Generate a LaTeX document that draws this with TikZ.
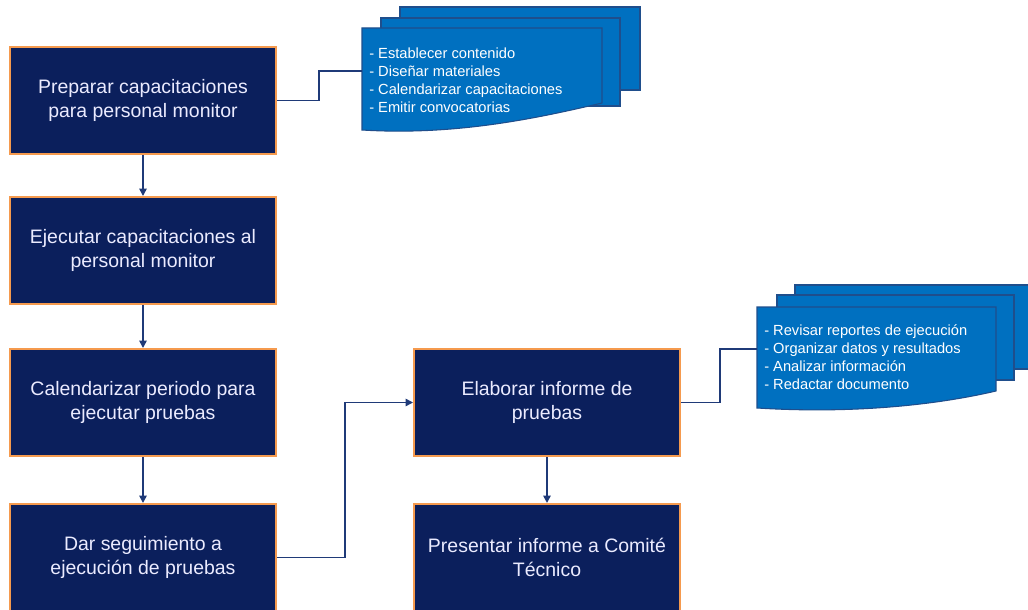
\documentclass[tikz,border=0pt]{standalone}
\usepackage{fontspec}
\setmainfont{Liberation Sans}
\usepackage{xcolor}
\usetikzlibrary{arrows.meta}
\definecolor{boxnavy}{HTML}{0B1F5C}
\definecolor{boxedge}{HTML}{F59A4E}
\definecolor{linknavy}{HTML}{1F3A78}
\definecolor{docblue}{HTML}{0070C0}
\definecolor{docedge}{HTML}{1F4E8C}

% one page of a stack: left, top, right, bottom left, bottom right
\newcommand{\docpage}[5]{%
  \draw[docpage] (#1,#2) -- (#3,#2) -- (#3,#5)
    .. controls ({#3-0.25*(#3-#1)},{#5+14}) and ({#1+0.4*(#3-#1)},{#4+6}) .. (#1,#4) -- cycle;}

\begin{document}
\begin{tikzpicture}[x=0.75pt, y=-0.75pt,
    stepbox/.style={draw=boxedge, line width=1.5pt, fill=boxnavy, text=white!92!blue,
      minimum width=199.5pt, minimum height=80.25pt, inner sep=0pt,
      align=center, font=\fontsize{14.6}{18}\selectfont},
    docpage/.style={draw=docedge, line width=0.8pt, fill=docblue},
    doctext/.style={text=white, align=left, anchor=west, inner sep=0pt,
      font=\fontsize{11}{13.5}\selectfont},
    link/.style={draw=linknavy, line width=1.2pt},
    linkto/.style={link, -{Triangle[width=5.5pt,length=5.5pt]}}]
    \useasboundingbox (0,0) rectangle (1028,610);

    % left column
    \node[stepbox] (prep) at (143,100.5) {Preparar capacitaciones\\para personal monitor};
    \node[stepbox] (exec) at (143,250.5) {Ejecutar capacitaciones al\\personal monitor};
    \node[stepbox] (cal)  at (143,402.5) {Calendarizar periodo para\\ejecutar pruebas};
    \node[stepbox] (seg)  at (143,557.5) {Dar seguimiento a\\ejecución de pruebas};

    % right column
    \node[stepbox] (elab) at (547,402.5) {Elaborar informe de\\pruebas};
    \node[stepbox] (pres) at (547,557.5) {Presentar informe a Comité\\Técnico};

    % task stacks
    \draw[docpage] (400,7) rectangle (640,90);
    \draw[docpage] (381,18) rectangle (620,106);
    \docpage{362}{28}{602}{130}{103}
    \node[doctext] (tasksA) at (369,80) {- Establecer contenido\\- Diseñar materiales\\- Calendarizar capacitaciones\\- Emitir convocatorias};
    \coordinate (tasksAin) at (362,71);

    \draw[docpage] (795,285) rectangle (1036,369);
    \draw[docpage] (777,295) rectangle (1014,380);
    \docpage{757}{307}{996}{408}{391}
    \node[doctext] (tasksB) at (764,357) {- Revisar reportes de ejecución\\- Organizar datos y resultados\\- Analizar información\\- Redactar documento};
    \coordinate (tasksBin) at (757,349);

    % connectors
    \draw[linkto] (prep) -- (exec);
    \draw[linkto] (exec) -- (cal);
    \draw[linkto] (cal) -- (seg);
    \draw[linkto] (elab) -- (pres);
    \draw[linkto] (seg.east) -- ++(68,0) |- (elab.west);
    \draw[link] (prep.east) -- ++(42,0) |- (tasksAin);
    \draw[link] (elab.east) -- ++(39,0) |- (tasksBin);
\end{tikzpicture}
\end{document}
